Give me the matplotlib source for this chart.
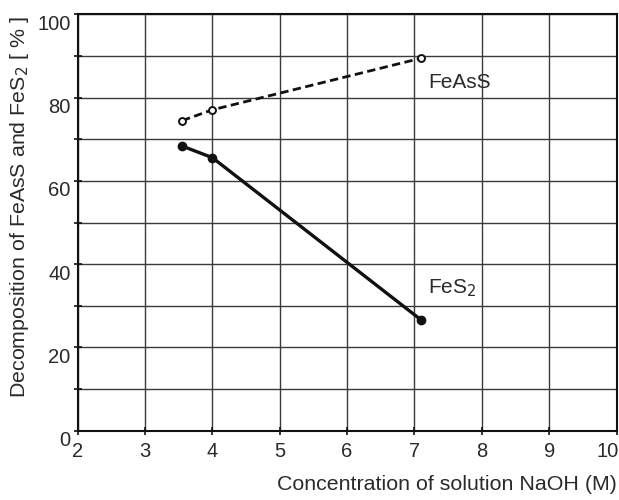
import matplotlib
matplotlib.use("Agg")
import matplotlib.pyplot as plt
import matplotlib.transforms as mtransforms

plt.rcParams['font.family'] = ['Liberation Sans', 'DejaVu Sans']

naoh = [3.55, 4.0, 7.1]
feass = [74.5, 77.1, 89.5]
fes2 = [68.4, 65.6, 26.6]
xticks = [2, 3, 4, 5, 6, 7, 8, 9, 10]
yticks = [0, 10, 20, 30, 40, 50, 60, 70, 80, 90, 100]
ylabels = ['0', '', '20', '', '40', '', '60', '', '80', '', '100']

fig = plt.figure(figsize=(6.19, 5.0), dpi=100)
ax = fig.add_axes([0.1255, 0.1386, 0.8705, 0.8324])
ax.set_xlim(2, 10)
ax.set_ylim(0, 100)

tc = '#2a2a2a'
ax.grid(True, color='#3a3a3a', linewidth=1.0)
ax.set_axisbelow(True)

ax.plot(naoh, feass, linestyle=(0, (3, 1.6)), color='#111111', linewidth=2.0,
        marker='o', markersize=5, markerfacecolor='white', markeredgecolor='#111111',
        markeredgewidth=1.4, zorder=3)
ax.plot(naoh, fes2, linestyle='-', color='#111111', linewidth=2.4,
        marker='o', markersize=6, markerfacecolor='#111111', markeredgecolor='#111111',
        zorder=3)

ax.text(7.2, 83.7, 'FeAsS', fontsize=15, color=tc, va='center', ha='left')
ax.text(7.2, 34.2, 'FeS$_2$', fontsize=15, color=tc, va='center', ha='left')

ax.set_xticks(xticks)
ax.set_xticklabels([str(v) for v in xticks], fontsize=14.5, color=tc)
ax.set_yticks(yticks)
ax.set_yticklabels(ylabels, fontsize=14.5, color=tc)
ax.tick_params(axis='both', direction='inout', length=6, width=1.2, color='#111111')
ax.tick_params(axis='x', pad=5)
ax.tick_params(axis='y', pad=2)

off = mtransforms.ScaledTranslation(0, -8 / 100, fig.dpi_scale_trans)
for lab in ax.get_yticklabels():
    lab.set_transform(lab.get_transform() + off)
last = ax.get_xticklabels()[-1]
last.set_transform(last.get_transform() + mtransforms.ScaledTranslation(-9 / 100, 0, fig.dpi_scale_trans))

for s in ax.spines.values():
    s.set_color('#111111')
    s.set_linewidth(1.5)

fig.text(0.997, 0.032, 'Concentration of solution NaOH (M)', fontsize=15.4,
         color=tc, ha='right', va='center')
fig.text(0.032, 0.586, 'Decomposition of FeAsS and FeS$_2$ [ % ]', fontsize=15.4,
         color=tc, ha='center', va='center', rotation=90)

fig.savefig('out.png', dpi=100)
